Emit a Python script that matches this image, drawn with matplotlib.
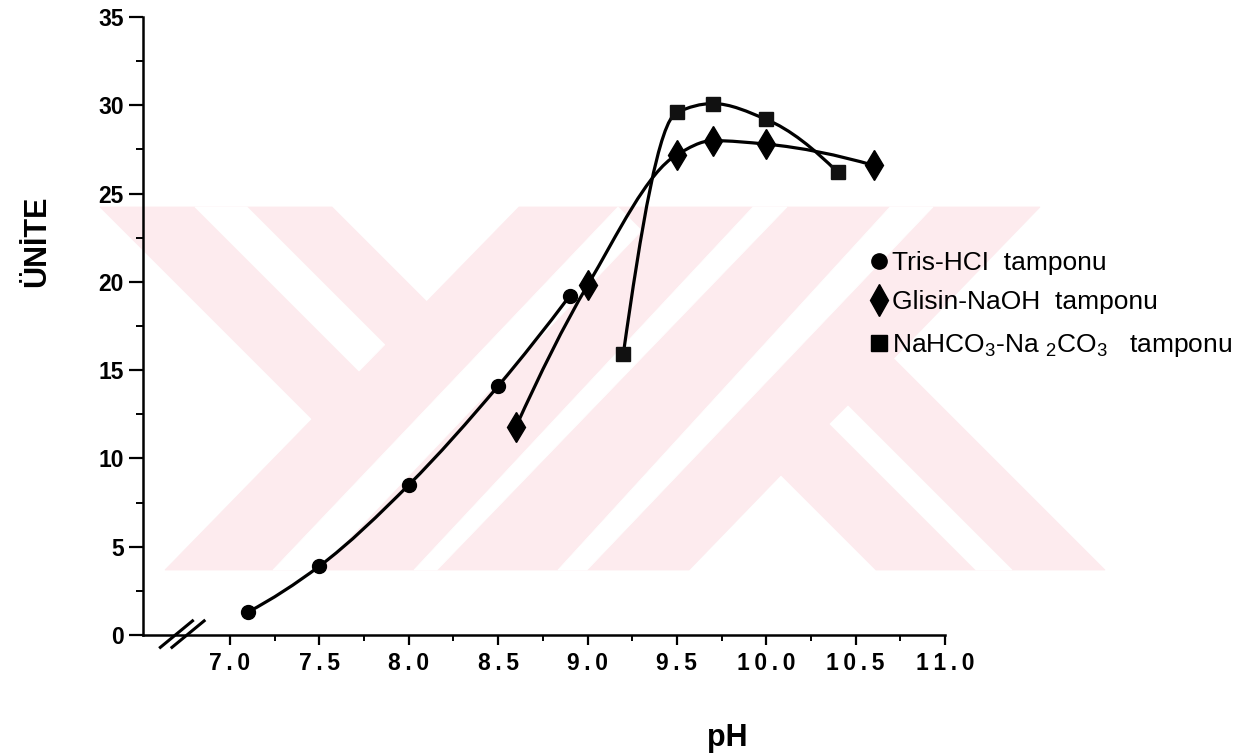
import numpy as np
import matplotlib
matplotlib.use("Agg")
import matplotlib.pyplot as plt
from matplotlib.path import Path
from matplotlib.patches import PathPatch, Polygon
from matplotlib.ticker import FixedLocator, MultipleLocator

plt.rcParams['font.family'] = ['Liberation Sans', 'DejaVu Sans']
plt.rcParams['mathtext.fontset'] = 'custom'
plt.rcParams['mathtext.rm'] = 'Liberation Sans'
plt.rcParams['mathtext.it'] = 'Liberation Sans:italic'
plt.rcParams['mathtext.bf'] = 'Liberation Sans:bold'

# enzyme activity (unit) vs pH for the three buffers
tris_ph = [7.1, 7.5, 8.0, 8.5, 8.9]
tris_unit = [1.3, 3.9, 8.5, 14.1, 19.2]

glisin_ph = [8.6, 9.0, 9.5, 9.7, 10.0, 10.6]
glisin_unit = [11.8, 19.8, 27.2, 28.0, 27.8, 26.6]

karbonat_ph = [9.2, 9.5, 9.7, 10.0, 10.4]
karbonat_unit = [15.9, 29.6, 30.1, 29.2, 26.2]

ph_ticks = [7.0, 7.5, 8.0, 8.5, 9.0, 9.5, 10.0, 10.5, 11.0]
ph_minor = [7.25, 7.75, 8.25, 8.75, 9.25, 9.75, 10.25, 10.75]

legend_labels = ['Tris-HCI  tamponu',
                 'Glisin-NaOH  tamponu',
                 'NaHCO$_3$-Na $_2$CO$_3$   tamponu']


def pchip_slopes(x, y):
    # monotone (Fritsch-Carlson) tangents so the curve doesn't overshoot
    h = np.diff(x)
    delta = np.diff(y) / h
    d = np.zeros_like(y)
    for k in range(1, len(x) - 1):
        if delta[k - 1] * delta[k] > 0:
            w1 = 2 * h[k] + h[k - 1]
            w2 = h[k] + 2 * h[k - 1]
            d[k] = (w1 + w2) / (w1 / delta[k - 1] + w2 / delta[k])

    def end(h0, h1, d0, d1):
        s = ((2 * h0 + h1) * d0 - h0 * d1) / (h0 + h1)
        if np.sign(s) != np.sign(d0):
            s = 0.0
        elif np.sign(d0) != np.sign(d1) and abs(s) > abs(3 * d0):
            s = 3 * d0
        return s

    d[0] = end(h[0], h[1], delta[0], delta[1])
    d[-1] = end(h[-1], h[-2], delta[-1], delta[-2])
    return d


def smooth_path(xs, ys):
    x = np.asarray(xs, float)
    y = np.asarray(ys, float)
    d = pchip_slopes(x, y)
    verts = [(x[0], y[0])]
    codes = [Path.MOVETO]
    for i in range(len(x) - 1):
        h = x[i + 1] - x[i]
        verts += [(x[i] + h / 3, y[i] + d[i] * h / 3),
                  (x[i + 1] - h / 3, y[i + 1] - d[i + 1] * h / 3),
                  (x[i + 1], y[i + 1])]
        codes += [Path.CURVE4] * 3
    return Path(verts, codes)


fig = plt.figure(figsize=(12.52, 7.53), dpi=100)

# background layer in pixel units for the faint watermark
bg = fig.add_axes([0, 0, 1, 1], zorder=0)
bg.set_xlim(0, 1252)
bg.set_ylim(753, 0)
bg.axis('off')

pink = '#fdebee'
pink_parts = [
    [(100, 207), (332, 207), (426.7, 301.7), (312, 419)],
    [(519, 207), (1040, 207), (689, 570), (165, 570)],
    [(781, 475), (893.5, 358.5), (1105, 570), (876, 570)],
]
white_parts = [
    [(195, 207), (247, 207), (384.7, 344.7), (359, 371)],
    [(618, 207), (641.6, 230.6), (319, 570), (273, 570)],
    [(753, 207), (787, 207), (437, 570), (414, 570)],
    [(890, 207), (933, 207), (587, 570), (558, 570)],
    [(830, 424), (848, 406), (1012, 570), (976, 570)],
]
for poly in pink_parts:
    bg.add_patch(Polygon(poly, closed=True, fc=pink, ec=pink, lw=0.6))
for poly in white_parts:
    bg.add_patch(Polygon(poly, closed=True, fc='white', ec='white', lw=0.6))

ax = fig.add_axes([143 / 1252, 1 - 635 / 753, (945 - 143) / 1252, (635 - 17) / 753], zorder=1)
ax.patch.set_alpha(0)
ax.set_xlim(6.513, 11.0)
ax.set_ylim(0, 35)

for side in ['top', 'right']:
    ax.spines[side].set_visible(False)
for side in ['left', 'bottom']:
    ax.spines[side].set_linewidth(1.8)

ax.xaxis.set_major_locator(FixedLocator(ph_ticks))
ax.xaxis.set_minor_locator(FixedLocator(ph_minor))
ax.set_xticklabels(['\u2009'.join(f'{t:.1f}') for t in ph_ticks])
ax.yaxis.set_major_locator(MultipleLocator(5))
ax.yaxis.set_minor_locator(MultipleLocator(2.5))

ax.tick_params(axis='x', which='major', direction='out', length=7, width=1.6, pad=5,
               labelsize=16.5)
ax.tick_params(axis='x', which='minor', direction='out', length=4, width=1.4)
ax.tick_params(axis='y', which='major', direction='out', length=10, width=1.6, pad=4,
               labelsize=16.5)
ax.tick_params(axis='y', which='minor', direction='out', length=5, width=1.4)
for lab in ax.get_xticklabels() + ax.get_yticklabels():
    lab.set_fontweight('bold')

# curves
for xs, ys in [(tris_ph, tris_unit), (glisin_ph, glisin_unit), (karbonat_ph, karbonat_unit)]:
    ax.add_patch(PathPatch(smooth_path(xs, ys), fill=False, ec='black', lw=2.3,
                           capstyle='round', joinstyle='round'))

ax.plot(tris_ph, tris_unit, 'o', color='black', ms=10, ls='none')
ax.plot(glisin_ph, glisin_unit, 'd', color='black', ms=15, ls='none')
ax.plot(karbonat_ph, karbonat_unit, 's', color='#111111', ms=10, ls='none')

# axis break on the pH axis
for off in [0.0, 0.065]:
    ax.plot([6.61 + off, 6.79 + off], [-0.7, 0.8], color='black', lw=2.2, clip_on=False)

fig.text(37 / 1252, 1 - 241 / 753, 'ÜNİTE', rotation=90, ha='center', va='center',
         fontsize=22, fontweight='bold')
fig.text(727 / 1252, 1 - 738 / 753, 'pH', ha='center', va='center',
         fontsize=22, fontweight='bold')

# legend, drawn by hand
leg_markers = [('o', 11), ('d', 16), ('s', 11)]
leg_y = [261, 300, 343]
for (m, s), y, lab in zip(leg_markers, leg_y, legend_labels):
    bg.plot([879], [y], m, color='black', ms=s, zorder=3)
    bg.text(892, y + 9, lab, ha='left', va='baseline', fontsize=19, zorder=3)

fig.savefig('out.png', dpi=100)
